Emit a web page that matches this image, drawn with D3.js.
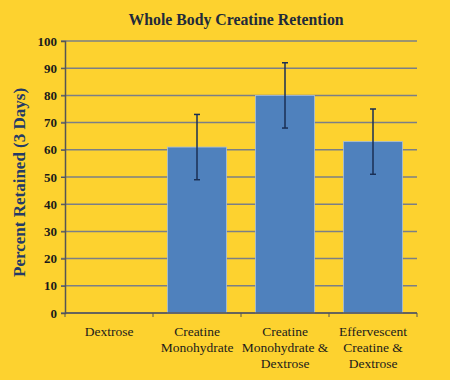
<!DOCTYPE html>
<meta charset="utf-8">
<style>
body { margin: 0; background: #fdd22f; }
svg { display: block; font-family: "Liberation Serif", "Times New Roman", serif; }
.grid line { stroke: #7b7f86; stroke-width: 1.5px; }
</style>
<script src="https://d3js.org/d3.v7.min.js"></script>
<body>
<div id="chart"></div>
<script>
var categories = [["Dextrose"], ["Creatine", "Monohydrate"], ["Creatine", "Monohydrate &", "Dextrose"], ["Effervescent", "Creatine &", "Dextrose"]];
var values = [0, 61, 80, 63];
var errors = [0, 12, 12, 12];
var yTicks = [0, 10, 20, 30, 40, 50, 60, 70, 80, 90, 100];

var w = 450, h = 380;
var margin = {top: 41, right: 33, bottom: 67, left: 65};

var svg = d3.select("#chart").append("svg")
    .attr("width", w)
    .attr("height", h);

svg.append("rect").attr("width", w).attr("height", h).attr("fill", "#fdd22f");

var x = d3.scaleBand()
    .domain(d3.range(categories.length))
    .range([margin.left, w - margin.right])
    .paddingInner(0.33)
    .paddingOuter(0.165);

var xb = d3.scaleBand()
    .domain(d3.range(categories.length))
    .range([margin.left, w - margin.right]);

var y = d3.scaleLinear()
    .domain([0, 100])
    .range([h - margin.bottom, margin.top]);

// gridlines
svg.append("g")
    .attr("class", "grid")
  .selectAll("line")
  .data(yTicks)
  .enter().append("line")
    .attr("x1", margin.left - 4)
    .attr("x2", w - margin.right)
    .attr("y1", function(d) { return y(d); })
    .attr("y2", function(d) { return y(d); });

// y axis
var yAxis = svg.append("g")
    .attr("transform", "translate(" + margin.left + ",0)")
    .call(d3.axisLeft(y).tickValues(yTicks).tickSize(4).tickPadding(4));
yAxis.attr("font-family", "Liberation Serif, serif").attr("font-size", 13);
yAxis.selectAll(".tick text")
    .attr("font-family", "Liberation Serif, serif")
    .attr("font-weight", "bold")
    .attr("fill", "#1b1b1b");
yAxis.select(".domain").attr("stroke", "#555").attr("stroke-width", 1.5);
yAxis.selectAll(".tick line").attr("stroke", "#555");

// bars
svg.append("g")
  .selectAll("rect")
  .data(values)
  .enter().append("rect")
    .attr("x", function(d, i) { return x(i); })
    .attr("width", x.bandwidth())
    .attr("y", function(d) { return y(d); })
    .attr("height", function(d) { return y(0) - y(d); })
    .attr("fill", "#4f81bd")
    .attr("stroke", "#a9bfdc")
    .attr("stroke-width", 0.8);

// x axis
var xAxis = svg.append("g")
    .attr("transform", "translate(0," + y(0) + ")");
xAxis.append("line")
    .attr("x1", margin.left).attr("x2", w - margin.right)
    .attr("stroke", "#555").attr("stroke-width", 1.5);
xAxis.selectAll(".xt")
  .data(d3.range(categories.length + 1))
  .enter().append("line")
    .attr("x1", function(d) { return d < categories.length ? xb(d) : xb.range()[1]; })
    .attr("x2", function(d) { return d < categories.length ? xb(d) : xb.range()[1]; })
    .attr("y1", 0).attr("y2", 4)
    .attr("stroke", "#555");

// error bars
var eb = svg.append("g")
  .selectAll("g")
  .data(values.map(function(v, i) { return {v: v, e: errors[i], i: i}; }).filter(function(d) { return d.e > 0; }))
  .enter().append("g")
    .attr("stroke", "#1a2f55")
    .attr("stroke-width", 1.5);
eb.append("line")
    .attr("x1", function(d) { return x(d.i) + x.bandwidth() / 2; })
    .attr("x2", function(d) { return x(d.i) + x.bandwidth() / 2; })
    .attr("y1", function(d) { return y(d.v + d.e); })
    .attr("y2", function(d) { return y(d.v - d.e); });
eb.selectAll(".cap")
  .data(function(d) { return [d.v + d.e, d.v - d.e].map(function(v) { return {v: v, i: d.i}; }); })
  .enter().append("line")
    .attr("x1", function(d) { return x(d.i) + x.bandwidth() / 2 - 3; })
    .attr("x2", function(d) { return x(d.i) + x.bandwidth() / 2 + 3; })
    .attr("y1", function(d) { return y(d.v); })
    .attr("y2", function(d) { return y(d.v); });

// category labels
svg.append("g")
  .selectAll("text")
  .data(categories)
  .enter().append("text")
    .attr("text-anchor", "middle")
    .attr("font-size", "13.5px")
    .attr("fill", "#1b1b1b")
    .attr("transform", function(d, i) { return "translate(" + (xb(i) + xb.bandwidth() / 2) + "," + (y(0) + 23) + ")"; })
  .selectAll("tspan")
  .data(function(d) { return d; })
  .enter().append("tspan")
    .attr("x", 0)
    .attr("dy", function(d, i) { return i === 0 ? 0 : 16; })
    .text(function(d) { return d; });

// title
svg.append("text")
    .attr("x", 236)
    .attr("y", 25)
    .attr("text-anchor", "middle")
    .attr("font-weight", "bold")
    .attr("font-size", "15.8px")
    .attr("fill", "#222a3a")
    .text("Whole Body Creatine Retention");

// y label
svg.append("text")
    .attr("transform", "translate(25," + (y(48)) + ") rotate(-90)")
    .attr("text-anchor", "middle")
    .attr("font-weight", "bold")
    .attr("font-size", "17px")
    .attr("fill", "#243a66")
    .text("Percent Retained (3 Days)");
</script>
</body>
